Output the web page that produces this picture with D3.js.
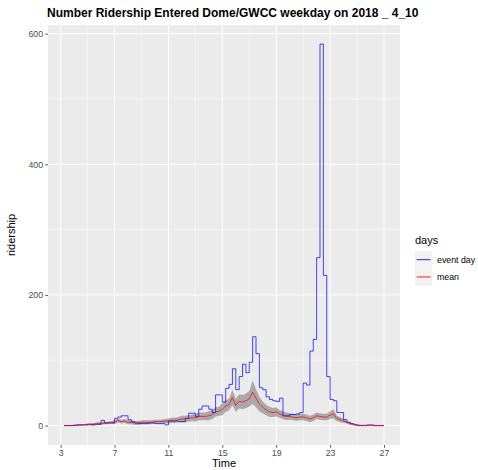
<!DOCTYPE html>
<html>
<head>
<meta charset="utf-8">
<script src="https://cdn.jsdelivr.net/npm/d3@7"></script>
<style>
  body { margin: 0; background: #fff; }
  svg { display: block; font-family: "Liberation Sans", Arial, Helvetica, sans-serif; }
</style>
</head>
<body>
<div id="chart"></div>
<script>
// ---- data ----
const hours = [3.25,3.5,3.75,4,4.25,4.5,4.75,5,5.25,5.5,5.75,6,6.25,6.5,6.75,7,7.25,7.5,7.75,8,
  8.25,8.5,8.75,9,9.25,9.5,9.75,10,10.25,10.5,10.75,11,11.25,11.5,11.75,12,12.25,12.5,12.75,13,
  13.25,13.5,13.75,14,14.25,14.5,14.75,15,15.25,15.5,15.75,16,16.25,16.5,16.75,17,17.25,17.5,17.75,18,
  18.25,18.5,18.75,19,19.25,19.5,19.75,20,20.25,20.5,20.75,21,21.25,21.5,21.75,22,22.25,22.5,22.75,23,
  23.25,23.5,23.75,24,24.25,24.5,24.75,25,25.25,25.5,25.75,26,26.25,26.5,26.75,27];

const eventDay = [0,0,0,0,1,1,1,2,1,2,2,8,4,4,4,11,13,15,15,9,
  6,4,3,3,3,4,4,3,3,3,1,7,7,7,6,6,11,19,19,14,
  25,30,30,25,20,47,47,36,57,63,87,55,75,94,81,97,136,110,58,55,
  44,40,38,37,42,15,15,17,17,18,20,65,62,114,132,257,584,230,75,40,
  38,20,20,9,5,3,1,0,0,0,1,1,0,0,0,0];

const meanDay = [0,0,0,0.5,1,1,1.5,1.5,2,2,3,3,4,4,5,5,8,6,7,5,
  5,4,4,5,5,5,5,6,6,6,7,7,8,8,9,10,10,11,12,12,
  14,14,14,15,17,21,22,25,30,32,43,31,37,36,38,41,51,42,33,28,
  24,21,20,21,18,16,14,14,13,12,13,13,12,10,12,15,14,13,13,16,
  18,11,9,7,5,3,2,1,0.5,0.5,0.5,0.5,0,0,0,0];

const meanBand = [0.5,0.5,0.5,1,1,1,1,1.5,1.5,2,2,2,2,2,2,3,3,3,3,3,
  3,3,3,3,3,3,3,3,3,3,3,4,4,4,4,5,5,5,5,6,
  6,6,6,7,7,7,7,9,9,9,12,10,11,11,11,12,18,14,11,9,
  8,8,7,7,6,6,6,5,5,5,5,5,5,5,5,5,5,5,5,6,
  7,4,4,3,2,2,1,1,0.5,0.5,0.5,0.5,0.3,0.3,0.3,0.3];

const xTicks = [3, 7, 11, 15, 19, 23, 27];
const xMinor = [5, 9, 13, 17, 21, 25];
const yTicks = [0, 200, 400, 600];
const yMinor = [100, 300, 500];
const seriesNames = ["event day", "mean"];
const seriesColors = ["#0000ff", "#ff0000"];

// ---- layout ----
const W = 478, H = 470;
const P = { left: 48, right: 400, top: 25, bottom: 445 };

const svg = d3.select("#chart").append("svg").attr("width", W).attr("height", H);

const xExt = d3.extent(hours);
const xPad = (xExt[1] - xExt[0]) * 0.05;
const x = d3.scaleLinear().domain([xExt[0] - xPad, xExt[1] + xPad]).range([P.left, P.right]);

const lows = meanDay.map((m, i) => m - meanBand[i]);
const highs = meanDay.map((m, i) => m + meanBand[i]);
const yLo = Math.min(d3.min(eventDay), d3.min(lows), 0);
const yHi = Math.max(d3.max(eventDay), d3.max(highs));
const yPad = (yHi - yLo) * 0.05;
const y = d3.scaleLinear().domain([yLo - yPad, yHi + yPad]).range([P.bottom, P.top]);

// panel
svg.append("rect").attr("x", P.left).attr("y", P.top)
  .attr("width", P.right - P.left).attr("height", P.bottom - P.top).attr("fill", "#ebebeb");

const grid = svg.append("g");
yMinor.forEach(v => grid.append("line").attr("x1", P.left).attr("x2", P.right)
  .attr("y1", y(v)).attr("y2", y(v)).attr("stroke", "#fff").attr("stroke-width", 0.5));
xMinor.forEach(v => grid.append("line").attr("y1", P.top).attr("y2", P.bottom)
  .attr("x1", x(v)).attr("x2", x(v)).attr("stroke", "#fff").attr("stroke-width", 0.5));
yTicks.forEach(v => grid.append("line").attr("x1", P.left).attr("x2", P.right)
  .attr("y1", y(v)).attr("y2", y(v)).attr("stroke", "#fff").attr("stroke-width", 1));
xTicks.forEach(v => grid.append("line").attr("y1", P.top).attr("y2", P.bottom)
  .attr("x1", x(v)).attr("x2", x(v)).attr("stroke", "#fff").attr("stroke-width", 1));

// ribbon
const idx = d3.range(hours.length);
svg.append("path")
  .attr("d", d3.area().x(i => x(hours[i])).y0(i => y(lows[i])).y1(i => y(highs[i]))(idx))
  .attr("fill", "#999999").attr("fill-opacity", 0.8);

// event day step line
svg.append("path")
  .attr("d", d3.line().curve(d3.curveStepAfter).x(i => x(hours[i])).y(i => y(eventDay[i]))(idx))
  .attr("fill", "none").attr("stroke", seriesColors[0]).attr("stroke-width", 0.9).attr("stroke-opacity", 0.8);

// mean line
svg.append("path")
  .attr("d", d3.line().x(i => x(hours[i])).y(i => y(meanDay[i]))(idx))
  .attr("fill", "none").attr("stroke", seriesColors[1]).attr("stroke-width", 0.9).attr("stroke-opacity", 0.8);

// axes
const xAxis = d3.axisBottom(x).tickValues(xTicks).tickSize(2.75).tickPadding(2.2).tickFormat(d3.format("d"));
const yAxis = d3.axisLeft(y).tickValues(yTicks).tickSize(2.75).tickPadding(2.2).tickFormat(d3.format("d"));

const gx = svg.append("g").attr("transform", `translate(0,${P.bottom})`).call(xAxis);
const gy = svg.append("g").attr("transform", `translate(${P.left},0)`).call(yAxis);
[gx, gy].forEach(g => {
  g.select(".domain").remove();
  g.selectAll(".tick line").attr("stroke", "#333333").attr("stroke-width", 0.8);
  g.selectAll(".tick text").attr("fill", "#4d4d4d").style("font-size", "8.8px")
    .style("font-family", "'Liberation Sans', Arial, sans-serif");
});

// titles
svg.append("text").attr("x", P.left - 1).attr("y", 17)
  .style("font-size", "12px").style("font-weight", "bold").attr("fill", "#000")
  .text("Number Ridership Entered Dome/GWCC weekday on 2018 _ 4_10");

svg.append("text").attr("x", (P.left + P.right) / 2).attr("y", 467)
  .attr("text-anchor", "middle").style("font-size", "11px").attr("fill", "#000").text("Time");

svg.append("text").attr("transform", `translate(15,${(P.top + P.bottom) / 2}) rotate(-90)`)
  .attr("text-anchor", "middle").style("font-size", "11px").attr("fill", "#000").text("ridership");

// legend
const lg = svg.append("g").attr("transform", "translate(415,236)");
lg.append("text").attr("x", 0).attr("y", 8).style("font-size", "11px").attr("fill", "#000").text("days");
seriesNames.forEach((name, i) => {
  const gy0 = 15 + i * 17.3;
  lg.append("rect").attr("x", 0).attr("y", gy0).attr("width", 17.3).attr("height", 17.3).attr("fill", "#f2f2f2");
  lg.append("line").attr("x1", 1.7).attr("x2", 15.6).attr("y1", gy0 + 8.65).attr("y2", gy0 + 8.65)
    .attr("stroke", seriesColors[i]).attr("stroke-width", 1.1).attr("stroke-opacity", 0.8);
  lg.append("text").attr("x", 22).attr("y", gy0 + 8.65).attr("dy", "0.35em")
    .style("font-size", "8.8px").attr("fill", "#000").text(name);
});
</script>
</body>
</html>
